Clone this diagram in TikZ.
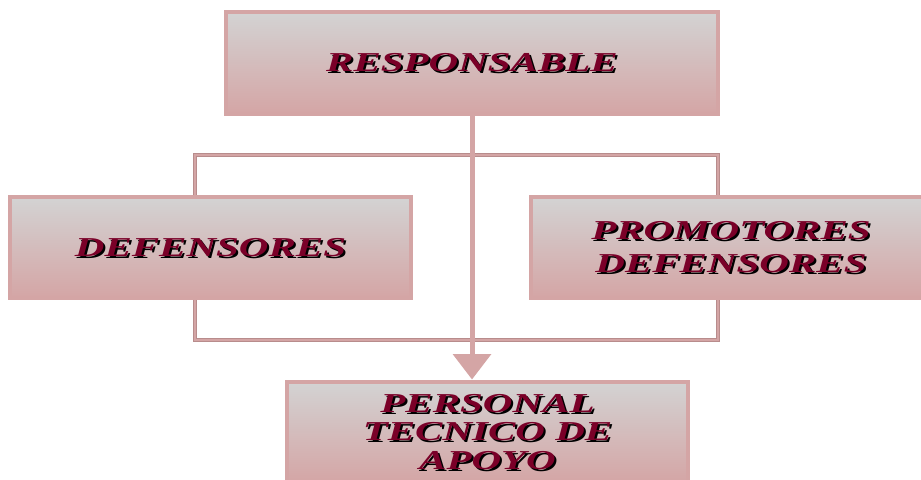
\documentclass[tikz,border=0pt]{standalone}
\usepackage{fontspec}
\setmainfont{Liberation Serif}
\usepackage{graphicx}
\usetikzlibrary{arrows.meta,calc}
\definecolor{rosa}{HTML}{D4A5A5}
\definecolor{rosaoscuro}{HTML}{B88C8C}
\definecolor{gris}{HTML}{D3D3D3}
\definecolor{vino}{HTML}{7A0028}
\newcommand{\rotulo}[1]{\scalebox{1.5}[1]{\begin{tabular}{@{}c@{}}#1\end{tabular}}}

\begin{document}
\begin{tikzpicture}[x=0.75pt,y=-0.75pt,
  caja/.style={draw=rosa,line width=3pt,top color=gris,bottom color=rosa,
    minimum width=300.75pt,minimum height=75.75pt,inner sep=0pt},
  texto/.style={text=vino,inner sep=0pt,font=\fontsize{20.5}{21.5}\selectfont\bfseries\itshape},
  sombra/.style={texto,text=black},
  enlace/.style={draw=rosaoscuro,line width=0.5pt,double=rosa,double distance=1.6pt},
  flecha/.style={draw=rosa,line width=3.75pt,-{Triangle[width=28pt,length=19pt]}}]
\useasboundingbox (0,0) rectangle (921,479);
\clip (0,0) rectangle (921,479);
% the boxes
\node[caja,minimum width=369pt,minimum height=76.5pt] (resp) at (472,63) {};
\node[caja] (def) at (210.5,247.5) {};
\node[caja] (prom) at (731,247.5) {};
\node[caja] (pers) at (487.5,432) {};
% the connectors
\coordinate (izq) at (195,155);
\coordinate (der) at (718,155);
\coordinate (izqb) at (195,340);
\coordinate (derb) at (718,340);
\draw[enlace] (def.north -| izq) -- (izq) -- (der) -- (prom.north -| der);
\draw[enlace] (def.south -| izq) -- (izqb) -- (derb) -- (prom.south -| der);
\draw[flecha] (resp.south) -- (resp.south |- pers.north);
% the labels, with their shadow
\foreach \caja/\texto in {resp/RESPONSABLE,def/DEFENSORES,prom/{PROMOTORES\\[3.5pt]DEFENSORES},pers/{PERSONAL\\TECNICO DE\\APOYO}}
{
\node[sombra] at ([shift={(2,5)}]\caja.center) {\rotulo{\texto}};
\node[texto] (t-\caja) at ([shift={(0,3)}]\caja.center) {\rotulo{\texto}};
}
\end{tikzpicture}
\end{document}
